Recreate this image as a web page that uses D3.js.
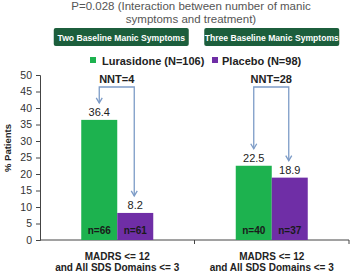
<!DOCTYPE html>
<html>
<head>
<meta charset="utf-8">
<script src="https://d3js.org/d3.v7.min.js"></script>
<style>
  body { margin: 0; background: white; }
  text { font-family: "Liberation Sans", Arial, sans-serif; }
  .tick text { font-size: 10.5px; fill: #333; }
  .bracket { fill: none; stroke: #7d9cc7; stroke-width: 1.3; }
</style>
</head>
<body>
<div id="chart"></div>
<script>
var groups = ["Two Baseline Manic Symptoms", "Three Baseline Manic Symptoms"];
var series = ["Lurasidone (N=106)", "Placebo (N=98)"];
var lurasidone = [36.4, 22.5];
var placebo = [8.2, 18.9];
var n_lurasidone = ["n=66", "n=40"];
var n_placebo = ["n=61", "n=37"];
var nnt = ["NNT=4", "NNT=28"];
var yTicks = [0, 5, 10, 15, 20, 25, 30, 35, 40, 45, 50];
var colors = ["#1db24f", "#6f2ea6"];

var width = 350, height = 272;
var margin = {top: 75, right: 1, bottom: 32, left: 40};
var w = width - margin.left - margin.right;
var h = height - margin.top - margin.bottom;

var svg = d3.select("#chart")
  .append("svg")
  .attr("width", width)
  .attr("height", height)
  .style("background", "white");

// title
svg.append("text")
  .attr("x", 191).attr("y", 10)
  .attr("text-anchor", "middle")
  .style("font-size", "11.5px").style("fill", "#555")
  .text("P=0.028 (Interaction between number of manic");
svg.append("text")
  .attr("x", 191).attr("y", 23)
  .attr("text-anchor", "middle")
  .style("font-size", "11.5px").style("fill", "#555")
  .text("symptoms and treatment)");

var g = svg.append("g")
  .attr("transform", "translate(" + margin.left + "," + margin.top + ")");

var x0 = d3.scaleBand().domain(groups).range([0, w]);
var barW = 36;
var yscale = d3.scaleLinear().domain([0, 50]).range([h, 0]);

// green header boxes
var boxes = svg.append("g");
groups.forEach(function (d, i) {
  var cx = margin.left + x0(d) + x0.bandwidth() / 2 + (i == 0 ? 4 : 0);
  boxes.append("rect")
    .attr("x", cx - 67.5).attr("y", 28)
    .attr("width", 135).attr("height", 18)
    .attr("rx", 2)
    .attr("fill", "#1c5e3c");
  boxes.append("text")
    .attr("x", cx).attr("y", 40.5)
    .attr("text-anchor", "middle")
    .style("font-size", "8.6px").style("font-weight", "bold").style("fill", "white")
    .text(d);
});

// legend
svg.append("rect").attr("x", 90).attr("y", 57).attr("width", 6).attr("height", 6).attr("fill", colors[0]);
svg.append("text").attr("x", 102).attr("y", 64.5)
  .style("font-size", "11px").style("font-weight", "bold").style("fill", "#222")
  .text(series[0]);
svg.append("rect").attr("x", 212).attr("y", 57).attr("width", 6).attr("height", 6).attr("fill", colors[1]);
svg.append("text").attr("x", 222).attr("y", 64.5)
  .style("font-size", "11px").style("font-weight", "bold").style("fill", "#222")
  .text(series[1]);

// axes
var yAxis = g.append("g")
  .call(d3.axisLeft(yscale).tickValues(yTicks).tickSize(4).tickPadding(4));
yAxis.select(".domain").attr("stroke", "#444");
yAxis.selectAll(".tick line").attr("stroke", "#444");

var xAxis = g.append("g")
  .attr("transform", "translate(0," + h + ")");
xAxis.append("line").attr("x1", 0).attr("x2", w).attr("y1", 0).attr("y2", 0).attr("stroke", "#444");
xAxis.selectAll("line.tk")
  .data(groups)
  .enter().append("line")
  .attr("class", "tk")
  .attr("x1", d => x0(d) + x0.bandwidth())
  .attr("x2", d => x0(d) + x0.bandwidth())
  .attr("y1", 0).attr("y2", 4)
  .attr("stroke", "#444");

groups.forEach(function (d) {
  var cx = x0(d) + x0.bandwidth() / 2;
  xAxis.append("text").attr("x", cx).attr("y", 20)
    .attr("text-anchor", "middle")
    .style("font-size", "10px").style("font-weight", "bold").style("fill", "#222")
    .text("MADRS <= 12");
  xAxis.append("text").attr("x", cx).attr("y", 31)
    .attr("text-anchor", "middle")
    .style("font-size", "10px").style("font-weight", "bold").style("fill", "#222")
    .text("and All SDS Domains <= 3");
});

svg.append("text")
  .attr("transform", "translate(11,148)rotate(-90)")
  .attr("text-anchor", "middle")
  .style("font-size", "9.5px").style("font-weight", "bold").style("fill", "#222")
  .text("% Patients");

// bars
var data = groups.map(function (d, i) {
  return [
    {group: d, k: 0, value: lurasidone[i], n: n_lurasidone[i]},
    {group: d, k: 1, value: placebo[i], n: n_placebo[i]}
  ];
});
var flat = data[0].concat(data[1]);
var barX = function (d) { return x0(d.group) + x0.bandwidth() / 2 - barW + d.k * barW; };

g.selectAll("rect.bar")
  .data(flat)
  .enter().append("rect")
  .attr("class", "bar")
  .attr("x", barX)
  .attr("y", d => yscale(d.value))
  .attr("width", barW)
  .attr("height", d => h - yscale(d.value))
  .attr("fill", d => colors[d.k]);

g.selectAll("text.val")
  .data(flat)
  .enter().append("text")
  .attr("class", "val")
  .attr("x", d => barX(d) + barW / 2)
  .attr("y", d => yscale(d.value) - 4)
  .attr("text-anchor", "middle")
  .style("font-size", "11px").style("fill", "#222")
  .text(d => d.value.toFixed(1));

g.selectAll("text.n")
  .data(flat)
  .enter().append("text")
  .attr("class", "n")
  .attr("x", d => barX(d) + barW / 2)
  .attr("y", h - 6)
  .attr("text-anchor", "middle")
  .style("font-size", "10px").style("font-weight", "bold").style("fill", "#1a1a1a")
  .text(d => d.n);

// NNT brackets
var topY = 12;
data.forEach(function (pair, i) {
  var xa = barX(pair[0]) + barW / 2;
  var xb = barX(pair[1]) + barW / 2 - 1;
  var ya = yscale(pair[0].value) - 17;
  var yb = yscale(pair[1].value) - 17;
  g.append("path").attr("class", "bracket")
    .attr("d", "M" + xa + "," + ya + "V" + topY + "H" + xb + "V" + yb);
  [[xa, ya], [xb, yb]].forEach(function (p) {
    g.append("path").attr("class", "bracket")
      .attr("d", "M" + (p[0] - 3) + "," + (p[1] - 5) + "L" + p[0] + "," + p[1] + "L" + (p[0] + 3) + "," + (p[1] - 5));
  });
  g.append("text")
    .attr("x", (xa + xb) / 2).attr("y", topY - 4)
    .attr("text-anchor", "middle")
    .style("font-size", "11px").style("font-weight", "bold").style("fill", "#222")
    .text(nnt[i]);
});
</script>
</body>
</html>
